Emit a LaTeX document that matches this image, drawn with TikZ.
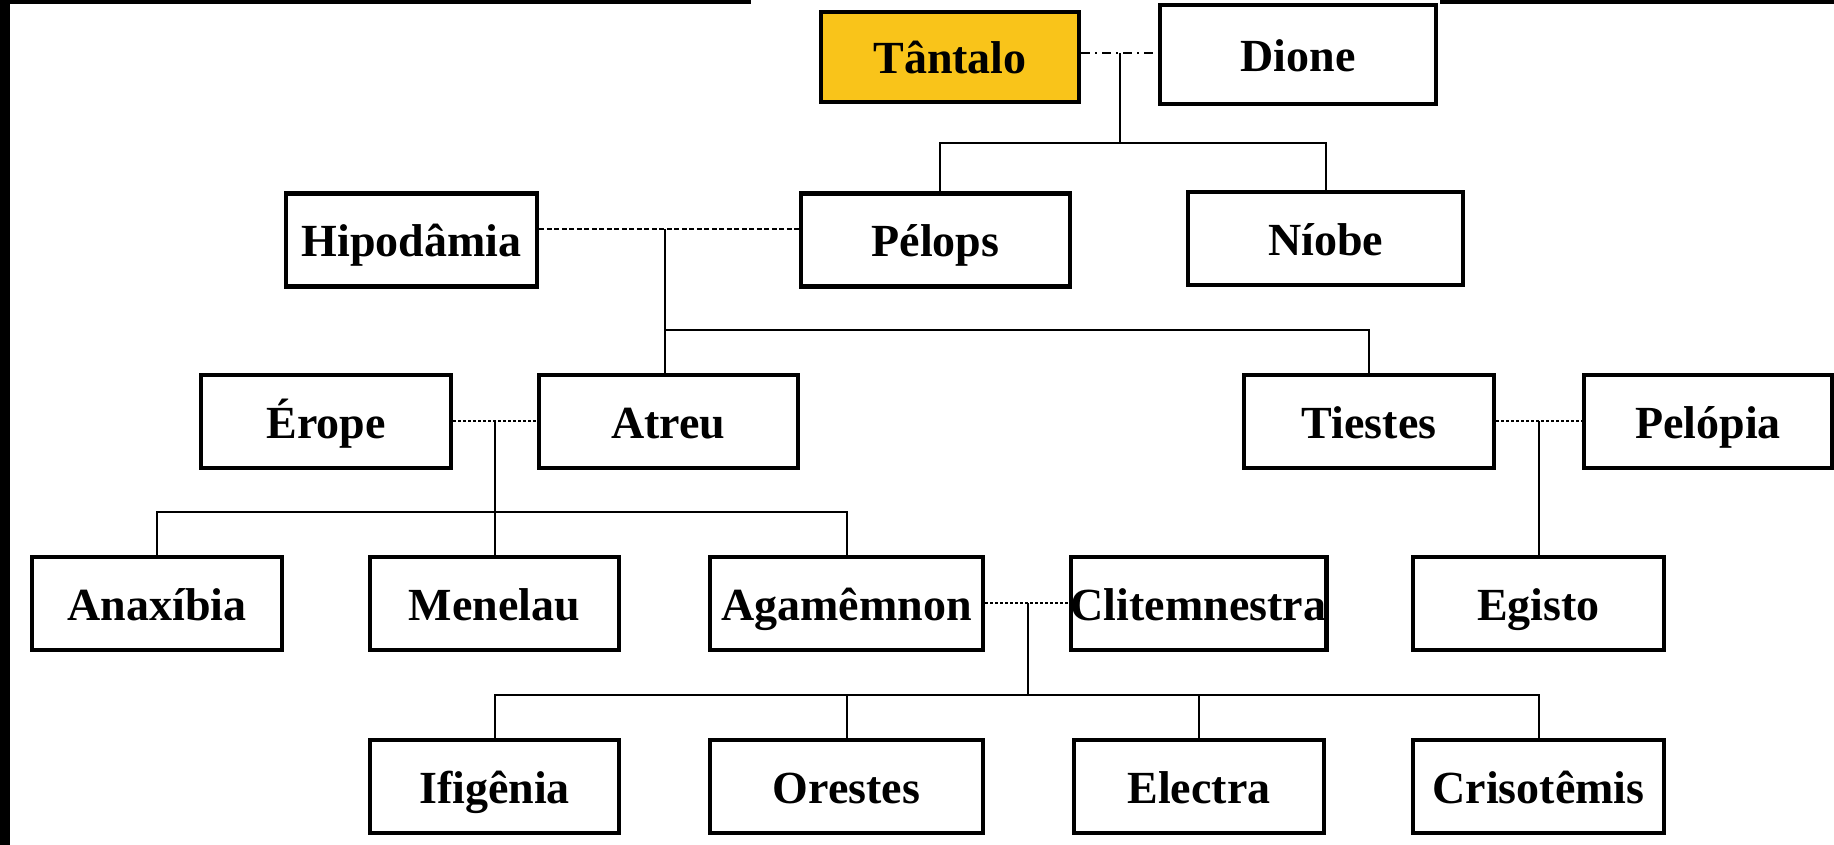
\documentclass[tikz,border=0pt]{standalone}
\usepackage{fontspec}
\setmainfont{Liberation Serif}
\definecolor{gold}{RGB}{249,196,26}
\begin{document}
\begin{tikzpicture}[x=1pt,y=-1pt,
  pbox/.style={draw=black, line width=4.5pt, fill=white, inner sep=0pt,
    minimum height=93pt, text height=36pt, text depth=2pt,
    font=\bfseries\fontsize{46}{52}\selectfont},
  conn/.style={line width=2pt, black},
  couple/.style={line width=2pt, dash pattern=on 5pt off 2.5pt},
  couple2/.style={line width=2pt, dash pattern=on 3pt off 2pt},
  tdline/.style={line width=2pt, dash pattern=on 9pt off 5pt on 2pt off 5pt}]
\useasboundingbox (0,0) rectangle (1834,845);
\fill[white] (0,0) rectangle (1834,845);
% frame
\fill[black] (0,0) rectangle (10,845);
\fill[black] (0,0) rectangle (751,4);
\fill[black] (1440,0) rectangle (1834,4);
% row 0
\node[pbox, fill=gold, minimum width=258pt, minimum height=90pt] (tan) at (950,57) {Tântalo};
\node[pbox, minimum width=276pt, minimum height=99pt] (dio) at (1298,54.5) {Dione};
% row 1
\node[pbox, minimum width=251pt] (hip) at (411.5,240) {Hipodâmia};
\node[pbox, minimum width=269pt] (pel) at (935.5,240) {Pélops};
\node[pbox, minimum width=275pt] (nio) at (1325.5,238.5) {Níobe};
% row 2
\node[pbox, minimum width=250pt] (ero) at (326,421.5) {Érope};
\node[pbox, minimum width=259pt] (atr) at (668.5,421.5) {Atreu};
\node[pbox, minimum width=250pt] (tie) at (1369,421.5) {Tiestes};
\node[pbox, minimum width=248pt] (plp) at (1708,421.5) {Pelópia};
% row 3
\node[pbox, minimum width=250pt] (ana) at (157,603.5) {Anaxíbia};
\node[pbox, minimum width=249pt] (men) at (494.5,603.5) {Menelau};
\node[pbox, minimum width=273pt] (aga) at (846.5,603.5) {Agamêmnon};
\node[pbox, minimum width=251pt] (cli) at (1198.5,603.5) {Clitemnestra};
\node[pbox, minimum width=251pt] (egi) at (1538.5,603.5) {Egisto};
% row 4
\node[pbox, minimum width=249pt] (ifi) at (494.5,786.5) {Ifigênia};
\node[pbox, minimum width=273pt] (ore) at (846.5,786.5) {Orestes};
\node[pbox, minimum width=250pt] (ele) at (1199,786.5) {Electra};
\node[pbox, minimum width=251pt] (cri) at (1538.5,786.5) {Crisotêmis};
% junction coordinates
\coordinate (j0) at (1120,53);
\coordinate (b0) at (1120,143);
\coordinate (j1) at (665,229);
\coordinate (b1) at (665,330);
\coordinate (j2) at (495,421);
\coordinate (b2) at (495,512);
\coordinate (j3) at (1539,421);
\coordinate (j4) at (1028,603);
\coordinate (b4) at (1028,695);
% Tantalo + Dione
\draw[tdline] (tan.east |- j0) -- (dio.west |- j0);
\draw[conn] (j0) -- (b0);
\draw[conn] (pel.north -| 940,0) |- (b0) -| (nio.north);
% Hipodamia + Pelops
\draw[couple] (hip.east |- j1) -- (pel.west |- j1);
\draw[conn] (j1) -- (atr.north -| j1);
\draw[conn] (b1) -| (tie.north);
% Erope + Atreu
\draw[couple2] (ero.east |- j2) -- (atr.west |- j2);
\draw[conn] (j2) -- (men.north -| j2);
\draw[conn] (ana.north) |- (b2) -| (aga.north);
% Tiestes + Pelopia
\draw[couple2] (tie.east |- j3) -- (plp.west |- j3);
\draw[conn] (j3) -- (egi.north -| j3);
% Agamemnon + Clitemnestra
\draw[couple2] (aga.east |- j4) -- (cli.west |- j4);
\draw[conn] (j4) -- (b4);
\draw[conn] (ifi.north) |- (b4) -| (cri.north);
\draw[conn] (ore.north) -- (ore.north |- b4);
\draw[conn] (ele.north) -- (ele.north |- b4);
\end{tikzpicture}
\end{document}
